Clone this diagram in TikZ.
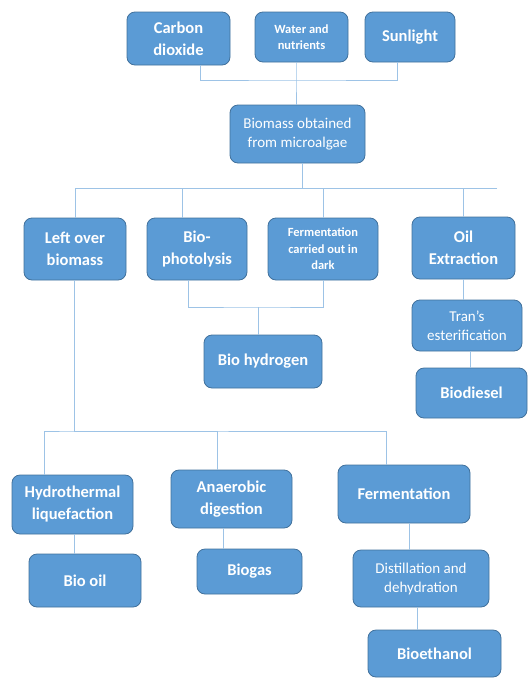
\documentclass[tikz,border=0pt]{standalone}
\usepackage{fontspec}
\setmainfont{Carlito}
\definecolor{boxfill}{HTML}{5B9BD5}
\definecolor{boxline}{HTML}{41719C}
\definecolor{linkcol}{HTML}{9DC3E6}
\begin{document}
\begin{tikzpicture}[
    x=1pt, y=-1pt,
    % cajas azules de Office
    box/.style={draw=boxline, fill=boxfill, rounded corners=8pt, line width=0.8pt, align=center, text=white, font=\fontsize{16.5}{22}\selectfont\bfseries, inner sep=2pt},
    boxlight/.style={box, font=\fontsize{15}{19}\selectfont},
    boxsmall/.style={box, font=\fontsize{12.5}{16.5}\selectfont\bfseries},
    % conexiones sin flechas
    link/.style={draw=linkcol, line width=0.9pt}
]
\useasboundingbox (0,0) rectangle (530,678);

% --- Entradas ---
\node[box, minimum width=103pt, minimum height=53pt] (co2) at (178.5,38.5) {Carbon\\dioxide};
\node[boxsmall, minimum width=93pt, minimum height=50pt] (water) at (301.5,37) {Water and\\nutrients};
\node[box, minimum width=90pt, minimum height=50pt] (sun) at (410,37) {Sunlight};
\node[boxlight, minimum width=135pt, minimum height=58pt] (biomass) at (297.5,134) {Biomass obtained\\from microalgae};

\coordinate (bus1) at (296,80);
\draw[link] ([xshift=21.5pt]co2.south) |- (bus1) -| ([xshift=-13pt]sun.south);
\draw[link] ([xshift=-5.5pt]water.south) -- (bus1) -- (bus1 |- biomass.north);

% --- Segundo nivel ---
\node[box, minimum width=102pt, minimum height=62pt] (leftover) at (75,249) {Left over\\biomass};
\node[box, minimum width=100pt, minimum height=62pt] (photo) at (197,249) {Bio-\\photolysis};
\node[boxsmall, minimum width=110pt, minimum height=62pt] (ferdark) at (323,249) {Fermentation\\carried out in\\dark};
\node[box, minimum width=103pt, minimum height=62pt] (oil) at (463.5,248) {Oil\\Extraction};

\coordinate (bus2) at (302,188);
\coordinate (bus2end) at (497,188);
\draw[link] ([xshift=4.5pt]biomass.south) -- (bus2);
\draw[link] (bus2end) -- (bus2 -| leftover.north) -- (leftover.north);
\draw[link] ([xshift=-15pt]photo.north) |- (bus2);
\foreach \n in {ferdark,oil}
    \draw[link] (\n.north) -- (\n.north |- bus2);

% --- Bio hidrogeno ---
\node[box, minimum width=118pt, minimum height=53pt] (biohyd) at (263,361.5) {Bio hydrogen};
\coordinate (bus3) at (258,307);
\draw[link] ([xshift=-9pt]photo.south) |- (bus3) -| (ferdark.south);
\draw[link] (bus3) -- ([xshift=-5pt]biohyd.north);

% --- Biodiesel ---
\node[boxlight, minimum width=110pt, minimum height=51pt] (trans) at (467,325.5) {Tran’s\\esterification};
\node[box, minimum width=111pt, minimum height=50pt] (biodiesel) at (471.5,393) {Biodiesel};
\draw[link] (oil.south) -- (oil.south |- trans.north);
\draw[link] ([xshift=3pt]trans.south) -- ([xshift=-1.5pt]biodiesel.north);

% --- Tercer nivel ---
\node[box, minimum width=121pt, minimum height=59pt] (hydro) at (72.5,504.5) {Hydrothermal\\liquefaction};
\node[box, minimum width=121pt, minimum height=58pt] (anaer) at (231.5,499) {Anaerobic\\digestion};
\node[box, minimum width=132pt, minimum height=58pt] (ferm) at (404,494) {Fermentation};

\coordinate (bus4) at (74,431);
\draw[link] ([xshift=-1pt]leftover.south) -- (bus4);
\draw[link] ([xshift=-28.5pt]hydro.north) |- (bus4) -| ([xshift=-18pt]ferm.north);
\draw[link] ([xshift=-14.5pt]anaer.north) |- (bus4);

% --- Productos ---
\node[box, minimum width=112pt, minimum height=53pt] (biooil) at (85,580.5) {Bio oil};
\node[box, minimum width=105pt, minimum height=45pt] (biogas) at (249.5,571.5) {Biogas};
\node[boxlight, minimum width=136pt, minimum height=57pt] (distil) at (421,578.5) {Distillation and\\dehydration};
\node[box, minimum width=133pt, minimum height=47pt] (bioeth) at (434.5,653.5) {Bioethanol};

\draw[link] ([xshift=1.5pt]hydro.south) -- ([xshift=-11pt]biooil.north);
\draw[link] ([xshift=-8.5pt]anaer.south) -- ([xshift=-26.5pt]biogas.north);
\draw[link] ([xshift=5pt]ferm.south) -- ([xshift=-12pt]distil.north);
\draw[link] ([xshift=-4pt]distil.south) -- ([xshift=-17.5pt]bioeth.north);

\end{tikzpicture}
\end{document}
